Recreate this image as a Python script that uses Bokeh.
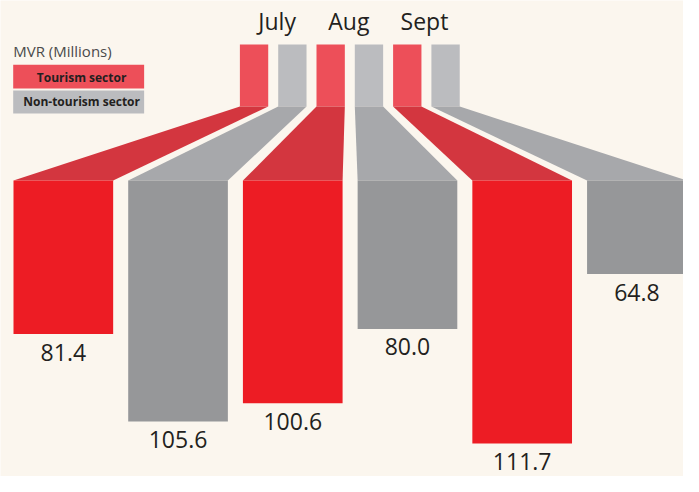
from bokeh.plotting import figure
from bokeh.models import Range1d
from bokeh.core.properties import value
from bokeh.embed import file_html
from bokeh.resources import INLINE

# ---- data ----
months = ["July", "Aug", "Sept"]
sectors = ["Tourism sector", "Non-tourism sector"]
tourism = [81.4, 100.6, 111.7]
non_tourism = [105.6, 80.0, 64.8]
unit_title = "MVR (Millions)"

# ---- styling ----
BG = "#fbf6ee"
TOP_COL = {"t": "#ed4f59", "n": "#bbbcbf"}
TRAP_COL = {"t": "#d3363f", "n": "#a7a8ab"}
BAR_COL = {"t": "#ed1c24", "n": "#969799"}
TXT = "#231f20"
FONT = "Open Sans"

# layout (reference-pixel layout, value axis scale)
K = 3.77      # px per MVR million
V0 = 38.9     # value at bar tops
BAR_TOP_PX = 188.0


def py(s):
    return V0 + (s - BAR_TOP_PX) / K


W, H = 683, 476
p = figure(width=W, height=H, output_backend="svg", toolbar_location=None,
           x_range=Range1d(0, 699),
           y_range=Range1d(py(497), py(0)),
           min_border=0, min_border_left=0, min_border_right=0,
           min_border_top=0, min_border_bottom=0)
p.axis.visible = False
p.grid.visible = False
p.outline_line_color = None
p.background_fill_color = BG
p.border_fill_color = BG

# interleave series: July T, July N, Aug T, Aug N, Sept T, Sept N
vals, kinds = [], []
for t, n in zip(tourism, non_tourism):
    vals += [t, n]
    kinds += ["t", "n"]

big_w, big_step, big_x0 = 102.0, 117.4, 13.3
top_w, top_step, top_x0 = 29.0, 39.2, 245.0
top_y0, top_y1 = py(46), py(110.7)

for i, (v, k) in enumerate(zip(vals, kinds)):
    bl = big_x0 + i * big_step
    br = bl + big_w
    tl = top_x0 + i * top_step
    tr = tl + top_w
    # small top bar
    p.quad(left=[tl], right=[tr], top=[top_y0], bottom=[top_y1],
           fill_color=TOP_COL[k], line_color=None)
    # connector
    p.patches(xs=[[tl, tr, br, bl]], ys=[[top_y1, top_y1, V0, V0]],
              fill_color=TRAP_COL[k], line_color=None)
    # main bar
    p.quad(left=[bl], right=[br], top=[V0], bottom=[v],
           fill_color=BAR_COL[k], line_color=None)

# value labels
centers = [big_x0 + i * big_step + big_w / 2 for i in range(len(vals))]
p.text(x=centers, y=vals, text=[f"{v:.1f}" for v in vals],
       y_offset=18, text_align="center", text_baseline="alphabetic",
       text_font=value(FONT), text_font_size="23px", text_color=TXT)

# month labels
mcent = [top_x0 + (2 * j) * top_step + (top_step + top_w) / 2 for j in range(len(months))]
mcent = [c + d for c, d in zip(mcent, [4, -1, -2])]
p.text(x=mcent, y=[py(31.7)] * 3, text=months, text_align="center",
       y_offset=-9.5,
       text_baseline="alphabetic", text_font=value(FONT),
       text_font_size="23px", text_color=TXT)

# legend
p.text(x=[13], y=[py(58.3)], text=[unit_title], text_align="left",
       y_offset=-5,
       text_baseline="alphabetic", text_font=value(FONT),
       text_font_size="15px", text_color="#4a4a4a")
p.quad(left=[13, 13], right=[147, 147], top=[py(67), py(94)],
       bottom=[py(92), py(118)], fill_color=[TOP_COL["t"], TOP_COL["n"]],
       line_color=None)
p.text(x=[83, 83], y=[py(84), py(109)], text=sectors, text_align="center",
       y_offset=-3.5,
       text_baseline="alphabetic", text_font=value(FONT),
       text_font_size="12px", text_font_style="bold", text_color=TXT)

open("out.html", "w").write(file_html(p, INLINE))
